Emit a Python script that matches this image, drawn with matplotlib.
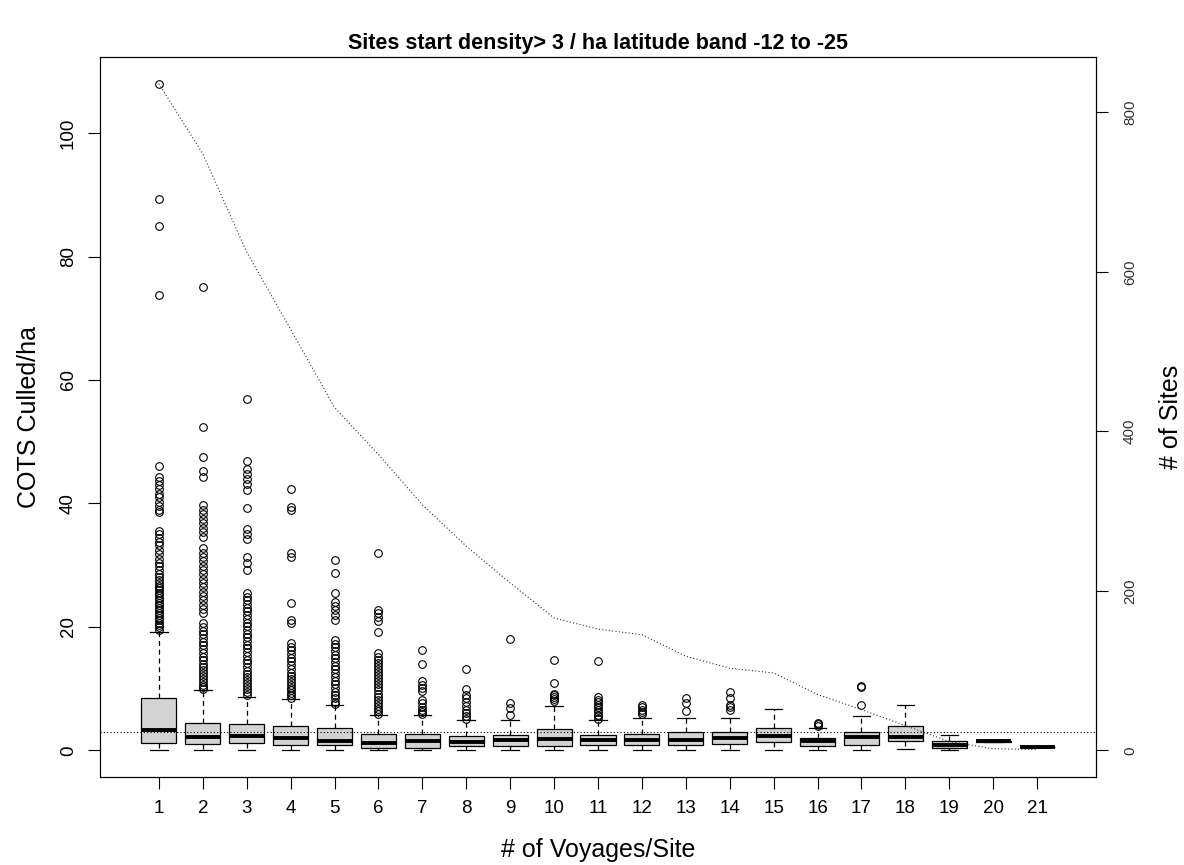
import numpy as np
import matplotlib
matplotlib.use("Agg")
import matplotlib.pyplot as plt

plt.rcParams['font.family'] = ['Liberation Sans', 'DejaVu Sans']

# ------------------------------------------------------------------
# data
# ------------------------------------------------------------------
voyages = list(range(1, 22))

q1 = [1.2, 1.0, 1.2, 0.8, 0.8, 0.45, 0.45, 0.65, 0.75, 0.75, 0.85,
      0.85, 0.85, 1.05, 1.3, 0.75, 0.8, 1.55, 0.45, 1.35, 0.5]
med = [3.35, 2.1, 2.4, 1.95, 1.55, 1.2, 1.45, 1.3, 1.6, 1.85, 1.6,
       1.7, 1.7, 2.0, 2.4, 1.45, 2.1, 2.15, 0.8, 1.45, 0.55]
q3 = [8.45, 4.5, 4.3, 3.9, 3.6, 2.7, 2.7, 2.35, 2.5, 3.45, 2.5,
      2.7, 2.9, 3.05, 3.6, 2.0, 3.05, 4.0, 1.45, 1.55, 0.6]
whis_lo = [0, 0, 0, 0, 0, 0, 0, 0, 0, 0, 0,
           0, 0, 0, 0, 0, 0.1, 0.27, 0, 1.35, 0.5]
whis_hi = [19.2, 9.7, 8.7, 8.3, 7.4, 5.75, 5.75, 4.95, 4.95, 7.2, 4.85,
           5.2, 5.2, 5.2, 6.7, 3.6, 5.5, 7.3, 2.45, 1.55, 0.6]

fliers = [
    [108.0, 89.3, 85.0, 73.7, 46.1, 44.3, 43.6, 43.0, 42.3, 41.6, 41.0, 40.3,
     39.6, 39.0, 38.6, 35.6, 35.0, 34.4, 33.8, 33.2, 32.5, 31.8, 31.0, 30.4,
     29.8, 29.2, 28.6, 28.1, 27.6, 27.1, 26.7, 26.3, 25.9, 25.5, 25.1, 24.7,
     24.3, 23.9, 23.5, 23.1, 22.7, 22.3, 21.9, 21.5, 21.1, 20.7, 20.3, 19.9, 19.5],
    [75.0, 52.4, 47.6, 45.3, 44.2, 39.7, 39.0, 38.3, 37.5, 36.8, 36.0, 35.3,
     34.6, 32.7, 32.0, 31.3, 30.6, 29.9, 29.2, 28.5, 27.8, 27.1, 26.4, 25.7,
     25.0, 24.3, 23.6, 22.9, 22.3, 20.6, 20.0, 19.4, 18.8, 18.2, 17.6, 17.0,
     16.4, 15.8, 15.2, 14.6, 14.0, 13.5, 13.0, 12.5, 12.0, 11.5, 11.0, 10.6,
     10.2, 9.9],
    [56.9, 46.9, 45.5, 44.7, 44.0, 43.2, 42.1, 39.3, 35.8, 35.0, 34.2, 31.4,
     30.3, 29.2, 25.5, 24.9, 24.3, 23.7, 23.1, 22.5, 21.9, 21.3, 20.7, 20.1,
     19.5, 18.9, 18.3, 17.7, 17.1, 16.5, 15.9, 15.3, 14.7, 14.1, 13.5, 12.9,
     12.4, 11.9, 11.4, 10.9, 10.4, 9.9, 9.4, 9.0],
    [42.4, 39.5, 39.0, 31.9, 31.4, 23.9, 21.1, 20.6, 17.4, 16.8, 16.2, 15.6,
     15.0, 14.4, 13.8, 13.2, 12.6, 12.1, 11.6, 11.1, 10.6, 10.1, 9.7, 9.3,
     8.9, 8.5],
    [30.8, 28.7, 25.5, 24.1, 23.4, 22.7, 22.0, 21.1, 17.9, 17.3, 16.7, 16.1,
     15.5, 14.9, 14.3, 13.7, 13.1, 12.5, 11.9, 11.3, 10.7, 10.1, 9.5, 8.9,
     8.4, 7.9, 7.5],
    [32.0, 22.7, 22.2, 21.6, 21.0, 19.2, 15.7, 15.2, 14.7, 14.2, 13.7, 13.2,
     12.7, 12.2, 11.7, 11.2, 10.7, 10.2, 9.7, 9.2, 8.7, 8.2, 7.7, 7.2, 6.7,
     6.3, 5.9],
    [16.2, 14.0, 11.2, 10.6, 10.1, 9.6, 8.2, 7.6, 7.1, 6.6, 6.2, 5.9],
    [13.2, 10.0, 9.0, 8.4, 7.8, 7.2, 6.6, 6.0, 5.5, 5.1],
    [18.1, 7.7, 6.8, 5.8],
    [14.7, 10.9, 9.2, 8.9, 8.6, 8.3, 8.0],
    [14.5, 8.6, 8.2, 7.8, 7.4, 7.0, 6.6, 6.2, 5.8, 5.5, 5.1],
    [7.4, 7.0, 6.6, 6.2, 5.9],
    [8.4, 7.6, 6.3],
    [9.4, 8.4, 7.4, 7.0, 6.6],
    [],
    [4.5, 4.2, 3.9],
    [10.4, 10.2, 7.3],
    [], [], [], [],
]

n_sites = [836, 748, 625, 528, 430, 371, 308, 256, 210, 166, 152,
           145, 118, 103, 97, 70, 51, 31, 11, 2, 1]

density_threshold = 3

title = "Sites start density> 3 / ha latitude band -12 to -25"

# ------------------------------------------------------------------
fig = plt.figure(figsize=(11.84, 8.65), dpi=100)
ax = fig.add_axes([100 / 1184, 1 - 777 / 865, 996 / 1184, 720 / 865])

stats = []
for i in range(len(voyages)):
    stats.append(dict(q1=q1[i], med=med[i], q3=q3[i], whislo=whis_lo[i],
                      whishi=whis_hi[i], fliers=fliers[i]))

ax.bxp(stats, positions=voyages, widths=0.8, patch_artist=True,
       boxprops=dict(facecolor='#d3d3d3', edgecolor='black', linewidth=0.9),
       medianprops=dict(color='black', linewidth=2.8, solid_capstyle='butt'),
       whiskerprops=dict(color='black', linewidth=0.9, linestyle=(0, (4, 3))),
       capprops=dict(color='black', linewidth=0.9),
       flierprops=dict(marker='o', markerfacecolor='none', markeredgecolor='black',
                       markersize=5.5, markeredgewidth=0.8, linestyle='none'))

ax.axhline(density_threshold, color='black', linewidth=0.8, linestyle=(0, (1, 2)))

ax.set_xlim(-0.34, 22.34)
ax.set_ylim(-4.32, 112.32)
ax.set_xticks(voyages)
ax.set_xticklabels([str(v) for v in voyages])
ax.set_yticks([0, 20, 40, 60, 80, 100])
ax.set_yticklabels(['0', '20', '40', '60', '80', '100'])
ax.tick_params(axis='both', length=8.5, width=0.8, labelsize=13.5, pad=8, direction='out')
for lbl in ax.get_yticklabels():
    lbl.set_rotation(90)
    lbl.set_va('center')
for sp in ax.spines.values():
    sp.set_linewidth(0.8)

ax.set_xlabel("# of Voyages/Site", fontsize=18, labelpad=15)
ax.set_ylabel("COTS Culled/ha", fontsize=18, labelpad=14)

# second axis: number of sites
ax2 = ax.twinx()
ax2.plot(voyages, n_sites, color='#333333', linewidth=0.8, linestyle=(0, (1, 2)))
ax2.set_ylim(-0.04 * 836, 836 * 1.04)
ax2.set_yticks([0, 200, 400, 600, 800])
ax2.set_yticklabels(['0', '200', '400', '600', '800'])
ax2.tick_params(axis='y', length=8.5, width=0.8, labelsize=11, pad=11,
                labelcolor='#333333')
for lbl in ax2.get_yticklabels():
    lbl.set_rotation(90)
    lbl.set_va('center')
ax2.set_ylabel("# of Sites", fontsize=18, labelpad=16)
for sp in ax2.spines.values():
    sp.set_linewidth(0.8)

fig.text(598 / 1184, 1 - 43 / 865, title, ha='center', va='center',
         fontsize=15.5, fontweight='bold')

fig.savefig("out.png", dpi=100)
